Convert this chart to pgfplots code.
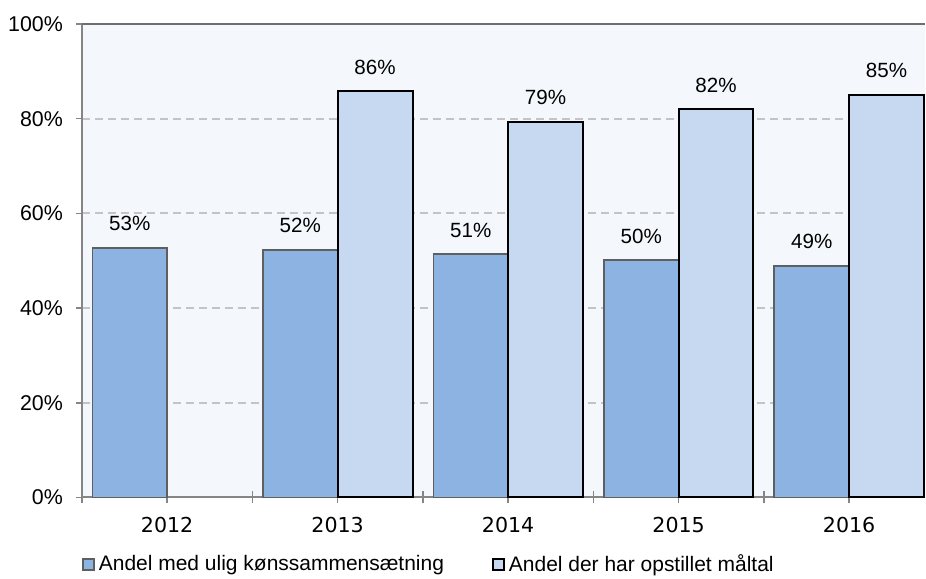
\documentclass[border=0pt]{standalone}
\usepackage{fontspec}
\setmainfont{Liberation Sans}
\newfontfamily\verdana{DejaVu Sans}
\usepackage{pgfplots}
\pgfplotsset{compat=1.18}
\definecolor{barA}{HTML}{8DB3E2}
\definecolor{barB}{HTML}{C6D9F1}
\definecolor{plotbg}{HTML}{F4F7FB}
\definecolor{gridc}{HTML}{C4C4C4}
\definecolor{axisc}{HTML}{858585}
\definecolor{topc}{HTML}{6E6E6E}
\definecolor{edgeA}{HTML}{5F5F5F}
\pgfplotsset{sqlegend/.style={legend image code/.code={\draw[##1] (0pt,-2.75pt) rectangle (5.5pt,2.75pt);}}}

\begin{document}
\begin{tikzpicture}
\begin{axis}[
  name=ax, scale only axis, width=422pt, height=237pt,
  ybar=0pt, bar width=0.439,
  xmin=-0.5, xmax=4.445, ymin=0, ymax=100, clip=false,
  axis x line*=bottom, axis y line*=left,
  axis line style={axisc, line width=1pt},
  xtick={0,1,2,3,4}, xticklabels={2012,2013,2014,2015,2016},
  ytick={0,20,40,60,80,100}, yticklabels={0\%,20\%,40\%,60\%,80\%,100\%},
  tick align=outside, major tick length=3pt, tick style={axisc, line width=0.8pt},
  extra x ticks={-0.5,0.5,1.5,2.5,3.5}, extra x tick labels={},
  extra x tick style={tick align=center, major tick length=6pt, grid=none},
  ymajorgrids, grid style={gridc, line width=0.9pt, dash pattern=on 4pt off 2.5pt},
  axis background/.style={fill=plotbg},
  x tick label style={font=\verdana\fontsize{10.3}{12}\selectfont, yshift=-3.5pt},
  y tick label style={font=\fontsize{10.7}{12}\selectfont, xshift=-3pt},
  nodes near coords={\pgfmathprintnumber[fixed,precision=0]{\pgfplotspointmeta}\%},
  nodes near coords style={font=\fontsize{10.3}{12}\selectfont, anchor=south, inner sep=0pt, yshift=8pt, text=black, /pgf/number format/assume math mode=true},
  legend style={draw=none, fill=none, at={(0,0)}, anchor=west, yshift=-33.5pt, legend columns=2,
    font=\fontsize{10.5}{12}\selectfont, inner sep=0pt,
    /tikz/every even column/.append style={column sep=22pt}},
  legend cell align=left,
]
\addplot[fill=barA, draw=edgeA, line width=0.8pt, sqlegend] coordinates {(0,52.7) (1,52.3) (2,51.4) (3,50.1) (4,48.9)};
\addplot[fill=barB, draw=black, line width=1pt, sqlegend] coordinates {(1,85.8) (2,79.3) (3,82.0) (4,85.1)};
\legend{Andel med ulig kønssammensætning, Andel der har opstillet måltal}
\draw[topc, line width=1pt] (rel axis cs:0,1) -- (rel axis cs:1,1);
\end{axis}
\path ([xshift=-41pt,yshift=12pt]ax.north west) rectangle ([yshift=-38pt]ax.south east);
\end{tikzpicture}
\end{document}
